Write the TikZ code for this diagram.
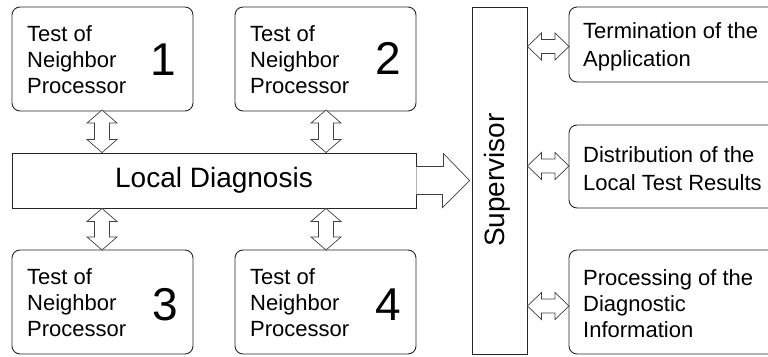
\documentclass[tikz,border=0pt]{standalone}
\usepackage{fontspec}
\setmainfont{Liberation Sans}
\usetikzlibrary{calc}

\tikzset{
  box/.style={draw=black!85, line width=0.9pt, rounded corners=8pt, fill=white},
  plainbox/.style={draw=black!85, line width=0.9pt, fill=white},
  blockarrow/.style={draw=black!75, line width=0.7pt, fill=white, line join=miter},
  % anchored at the baseline of the last line
  boxtext/.style={font=\fontsize{22}{26}\selectfont, align=left, inner sep=0pt, anchor=base west},
  tasktext/.style={boxtext, font=\fontsize{22}{28}\selectfont},
  bignum/.style={font=\fontsize{46}{50}\selectfont, inner sep=0pt, anchor=base},
  bigtext/.style={font=\fontsize{28}{32}\selectfont, inner sep=0pt}
}

% vertical double block arrow between two tips (upper, lower)
\newcommand\vdarrow[2]{%
  \draw[blockarrow] (#1) -- ++(15,13) -- ++(-7.5,0) -- ($(#2)+(7.5,-13)$) -- ++(7.5,0)
    -- (#2) -- ++(-15,-13) -- ++(7.5,0) -- ($(#1)+(-7.5,13)$) -- ++(-7.5,0) -- cycle;}
% horizontal double block arrow between two tips (left, right)
\newcommand\hdarrow[2]{%
  \draw[blockarrow] (#1) -- ++(14,-13.5) -- ++(0,6.5) -- ($(#2)+(-14,-7)$) -- ++(0,-6.5)
    -- (#2) -- ++(-14,13.5) -- ++(0,-6.5) -- ($(#1)+(14,7)$) -- ++(0,6.5) -- cycle;}

\begin{document}
\begin{tikzpicture}[x=1pt, y=-1pt]
\useasboundingbox (0,0) rectangle (768,356);
\clip (0,0) rectangle (768,356);

% neighbour test boxes
\draw[box] (12,7) rectangle (193,111);
\draw[box] (235,7) rectangle (416,111);
\draw[box] (12,250) rectangle (193,354);
\draw[box] (235,250) rectangle (416,354);

\node[boxtext] (t1) at (27,93) {Test of\\Neighbor\\Processor};
\node[boxtext] (t2) at (250,93) {Test of\\Neighbor\\Processor};
\node[boxtext] (t3) at (27,336) {Test of\\Neighbor\\Processor};
\node[boxtext] (t4) at (250,336) {Test of\\Neighbor\\Processor};
\node[bignum] (n1) at (163,75) {1};
\node[bignum] (n2) at (388,74) {2};
\node[bignum] (n3) at (165,320) {3};
\node[bignum] (n4) at (388,320) {4};

% local diagnosis bar
\node[plainbox, minimum width=404pt, minimum height=55pt, inner sep=0pt] (ld) at (214,180.5) {};
\node[bigtext, anchor=base] (ldt) at (214,187) {Local Diagnosis};

% supervisor column
\node[plainbox, minimum width=55pt, minimum height=347pt, inner sep=0pt] (sup) at (499.5,180.5) {};
\node[bigtext, rotate=90] (supt) at (497,180) {Supervisor};

% supervisor tasks
\draw[box] (569,7) rectangle (790,82);
\draw[box] (569,125) rectangle (790,208);
\draw[box] (569,250) rectangle (790,354);
\node[tasktext] (r1) at (583,66) {Termination of the\\Application};
\node[tasktext] (r2) at (583,190) {Distribution of the\\Local Test Results};
\node[boxtext] (r3) at (583,337) {Processing of the\\Diagnostic\\Information};

% arrows between test boxes and local diagnosis
\coordinate (a1t) at (102,110);  \coordinate (a1b) at (ld.north -| a1t);
\coordinate (a2t) at (326,110);  \coordinate (a2b) at (ld.north -| a2t);
\coordinate (a3b) at (102,250);  \coordinate (a3t) at (ld.south -| a3b);
\coordinate (a4b) at (326,250);  \coordinate (a4t) at (ld.south -| a4b);
\vdarrow{a1t}{a1b}
\vdarrow{a2t}{a2b}
\vdarrow{a3t}{a3b}
\vdarrow{a4t}{a4b}

% report arrow from local diagnosis to supervisor
\coordinate (tip) at ($(sup.west)+(-2,0)$);
\draw[blockarrow] ($(ld.east)+(0,-14)$) -- ++(27,0) -- ++(0,-13) -- (tip)
  -- ++(-27,27) -- ++(0,-13) -- ($(ld.east)+(0,14)$);

% arrows between supervisor and its tasks
\coordinate (h1l) at (sup.east |- 0,46.5);  \coordinate (h1r) at (569,46.5);
\coordinate (h2l) at (sup.east |- 0,166);   \coordinate (h2r) at (569,166);
\coordinate (h3l) at (sup.east |- 0,306);   \coordinate (h3r) at (569,306);
\hdarrow{h1l}{h1r}
\hdarrow{h2l}{h2r}
\hdarrow{h3l}{h3r}
\end{tikzpicture}
\end{document}
